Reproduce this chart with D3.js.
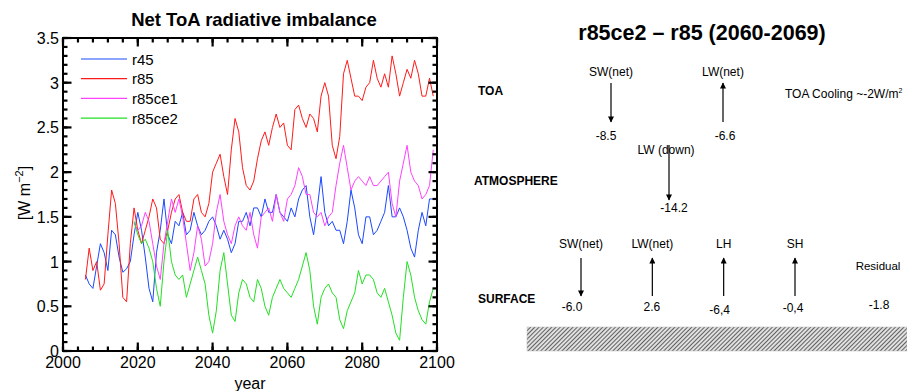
<!DOCTYPE html>
<html>
<head>
<meta charset="utf-8">
<script src="https://cdn.jsdelivr.net/npm/d3@7"></script>
<style>
  body { margin: 0; background: #fff; }
  svg { display: block; font-family: "Liberation Sans", Arial, Helvetica, sans-serif; }
</style>
</head>
<body>
<svg id="chart" width="907" height="391"></svg>
<script>
// ---- left panel data: one value per year ----
const r45Start = 2006;
const r45 = [0.85, 0.75, 0.7, 0.95, 1.2, 1.1, 0.9, 1.35, 1.3, 1.05,
  0.88, 0.92, 1.0, 1.3, 1.55, 1.35, 1.05, 0.7, 0.55, 1.1,
  1.35, 1.7, 1.3, 1.2, 1.45, 1.4, 1.55, 1.3, 1.35, 1.55,
  1.4, 1.3, 1.35, 1.45, 1.5, 1.4, 1.25, 1.35, 1.25, 1.1,
  1.2, 1.45, 1.45, 1.55, 1.4, 1.6, 1.6, 1.5, 1.7, 1.55,
  1.55, 1.75, 1.55, 1.5, 1.45, 1.6, 1.5, 1.7, 1.8, 1.85,
  1.5, 1.3, 1.6, 1.95, 1.55, 1.4, 1.45, 1.35, 1.35, 1.2,
  1.45, 1.8, 1.6, 1.3, 1.2, 1.5, 1.5, 1.3, 1.35, 1.45,
  1.55, 1.85, 1.5, 1.5, 1.6, 1.5, 1.35, 1.15, 1.05, 1.35,
  1.55, 1.4, 1.7, 1.7];

const r85Start = 2006;
const r85 = [0.8, 1.15, 0.9, 1.0, 0.68, 0.75, 1.3, 1.8, 1.65, 1.2,
  0.6, 0.55, 1.2, 1.6, 1.35, 1.2, 1.35, 1.5, 1.7, 1.6,
  1.25, 1.2, 1.35, 1.55, 1.7, 1.75, 1.55, 1.45, 1.45, 1.7,
  1.75, 1.55, 1.5, 1.65, 2.0, 2.1, 2.2, 1.95, 1.75, 2.25,
  2.6, 2.45, 2.05, 1.85, 1.8, 1.9, 2.15, 2.35, 2.45, 2.3,
  2.5, 2.65, 2.5, 2.55, 2.3, 2.25, 2.7, 2.75, 2.6, 2.5,
  2.65, 2.6, 2.45, 2.85, 3.0, 2.85, 2.3, 2.15, 2.4, 3.1,
  3.25, 3.05, 2.85, 2.85, 2.8, 2.95, 3.0, 3.25, 3.05, 2.95,
  3.1, 2.95, 3.3, 3.1, 2.85, 3.0, 3.15, 3.05, 3.25, 3.1,
  2.85, 2.85, 3.05, 2.85];

const r85ce1Start = 2019;
const r85ce1 = [1.43, 1.35, 1.4, 1.55, 1.45, 1.2, 0.95, 0.8, 1.2, 1.45,
  1.7, 1.55, 1.7, 1.5, 1.2, 0.9, 1.1, 1.4, 1.25, 0.95,
  1.0, 1.2, 1.55, 1.75, 1.45, 1.3, 1.2, 1.4, 1.5, 1.4,
  1.35, 1.55, 1.3, 1.15, 1.5, 1.55, 1.6, 1.45, 1.75, 1.55,
  1.45, 1.7, 1.75, 1.85, 2.05, 1.95, 1.75, 1.75, 1.55, 1.5,
  1.55, 1.4, 1.5, 1.55, 1.85, 2.1, 2.3, 2.05, 1.8, 1.9,
  1.95, 1.9, 1.85, 1.95, 1.85, 1.85, 1.9, 1.95, 2.0, 1.65,
  1.5, 1.9, 2.1, 2.3, 2.0, 1.9, 1.85, 1.7, 1.75, 1.85,
  2.25];

const r85ce2Start = 2019;
const r85ce2 = [1.45, 1.3, 1.2, 1.25, 1.15, 1.0, 0.7, 0.5, 1.0, 1.35,
  1.0, 0.85, 0.8, 0.85, 0.6, 0.75, 0.9, 1.05, 0.9, 0.75,
  0.4, 0.2, 0.45, 0.9, 1.1, 0.75, 0.4, 0.33, 0.65, 0.8,
  0.75, 0.6, 0.55, 0.8, 0.7, 0.5, 0.4, 0.6, 0.7, 0.8,
  0.7, 0.65, 0.6, 0.7, 0.8, 0.95, 1.1, 0.9, 0.5, 0.3,
  0.6, 0.7, 0.75, 0.65, 0.6, 0.35, 0.25, 0.45, 0.55, 0.65,
  0.9, 0.75, 0.85, 0.85, 0.8, 0.65, 0.6, 0.7, 0.55, 0.4,
  0.2, 0.12, 0.6, 1.0, 0.85, 0.6, 0.45, 0.35, 0.3, 0.55,
  0.7];

const seriesNames = ["r45", "r85", "r85ce1", "r85ce2"];
const seriesStarts = [r45Start, r85Start, r85ce1Start, r85ce2Start];
const seriesValues = [r45, r85, r85ce1, r85ce2];
const seriesColors = ["#1a48ff", "#ff1a1a", "#ff40ff", "#22e022"];

const xTicks = [2000, 2020, 2040, 2060, 2080, 2100];
const yTicks = [0, 0.5, 1, 1.5, 2, 2.5, 3, 3.5];

// ---- right panel data ----
const toaLabels = ["SW(net)", "LW(net)"];
const toaValues = ["-8.5", "-6.6"];
const toaDirs = ["down", "up"];
const atmLabels = ["LW (down)"];
const atmValues = ["-14.2"];
const sfcLabels = ["SW(net)", "LW(net)", "LH", "SH"];
const sfcValues = ["-6.0", "2.6", "-6,4", "-0,4"];
const sfcDirs = ["down", "up", "up", "up"];
const residualValue = "-1.8";

// small nudges of the value texts relative to their arrows
const toaValueShift = [-5, 2];
const sfcValueShift = [-9, -0.5, -4, -2];
const sfcValueDrop = [0, 0, 3, 1];

const svg = d3.select("#chart");
svg.append("rect").attr("width", 907).attr("height", 391).attr("fill", "#fff");

// ================= left: time series =================
const m = { left: 63, right: 437, top: 38, bottom: 351 };
const x = d3.scaleLinear().domain([2000, 2100]).range([m.left, m.right]);
const y = d3.scaleLinear().domain([0, 3.5]).range([m.bottom, m.top]);

const seriesLine = d3.line().x(d => x(d[0])).y(d => y(d[1]));

seriesValues.forEach((vals, i) => {
  const pts = vals.map((v, k) => [seriesStarts[i] + k, v]);
  svg.append("path")
    .attr("d", seriesLine(pts))
    .attr("fill", "none")
    .attr("stroke", seriesColors[i])
    .attr("stroke-width", 1)
    .attr("stroke-linejoin", "round");
});

// frame
svg.append("rect")
  .attr("x", m.left).attr("y", m.top)
  .attr("width", m.right - m.left).attr("height", m.bottom - m.top)
  .attr("fill", "none").attr("stroke", "#000").attr("stroke-width", 2);

// tick marks pointing inward on all four sides
const minorX = d3.range(2000, 2101, 4);
const minorY = d3.range(0, 3.51, 0.1);
const tickG = svg.append("g");

function xMarks(vals, len) {
  [[m.bottom, -1], [m.top, 1]].forEach(([base, dir]) => {
    tickG.selectAll(null).data(vals).join("line")
      .attr("x1", d => x(d)).attr("x2", d => x(d))
      .attr("y1", base).attr("y2", base + dir * len)
      .attr("stroke", "#000").attr("stroke-width", 2.2);
  });
}
function yMarks(vals, len) {
  [[m.left, 1], [m.right, -1]].forEach(([base, dir]) => {
    tickG.selectAll(null).data(vals).join("line")
      .attr("y1", d => y(d)).attr("y2", d => y(d))
      .attr("x1", base).attr("x2", base + dir * len)
      .attr("stroke", "#000").attr("stroke-width", 2.2);
  });
}
xMarks(minorX, 4.5);
xMarks(xTicks, 8.5);
yMarks(minorY, 4.5);
yMarks(yTicks, 8.5);

// tick labels
svg.append("g").selectAll("text").data(xTicks).join("text")
  .attr("x", d => x(d)).attr("y", 368)
  .attr("text-anchor", "middle").attr("font-size", 16)
  .text(d3.format("d"));
svg.append("g").selectAll("text").data(yTicks).join("text")
  .attr("x", 59).attr("y", d => y(d) + 6)
  .attr("text-anchor", "end").attr("font-size", 16)
  .text(d => d3.format("")(d));

// titles
svg.append("text").attr("x", 254).attr("y", 26).attr("text-anchor", "middle")
  .attr("font-size", 18.5).attr("font-weight", "bold").text("Net ToA radiative imbalance");

svg.append("text").attr("x", 250).attr("y", 389).attr("text-anchor", "middle")
  .attr("font-size", 16).text("year");

const yl = svg.append("text")
  .attr("transform", "translate(30,193) rotate(-90)")
  .attr("text-anchor", "middle").attr("font-size", 16);
yl.append("tspan").text("[W m");
yl.append("tspan").attr("dy", -7).attr("font-size", 11).text("\u22122");
yl.append("tspan").attr("dy", 7).text("]");

// legend
const leg = svg.append("g");
seriesNames.forEach((name, i) => {
  const ly = 59 + i * 19.7;
  leg.append("line").attr("x1", 81).attr("x2", 127).attr("y1", ly).attr("y2", ly)
    .attr("stroke", seriesColors[i]).attr("stroke-width", 1.2);
  leg.append("text").attr("x", 132).attr("y", ly + 5.5).attr("font-size", 15).text(name);
});

// ================= right: budget diagram =================
svg.append("text").attr("x", 702).attr("y", 40).attr("text-anchor", "middle")
  .attr("font-size", 21.5).attr("font-weight", "bold").text("r85ce2 \u2013 r85 (2060-2069)");

const defs = svg.append("defs");
defs.append("marker").attr("id", "head")
  .attr("viewBox", "0 0 10 10").attr("refX", 9).attr("refY", 5)
  .attr("markerUnits", "userSpaceOnUse")
  .attr("markerWidth", 8).attr("markerHeight", 6).attr("orient", "auto")
  .append("path").attr("d", "M0,0 L10,5 L0,10 Z").attr("fill", "#000");

const hatch = defs.append("pattern").attr("id", "hatch")
  .attr("patternUnits", "userSpaceOnUse").attr("width", 3).attr("height", 3)
  .attr("patternTransform", "rotate(-45)");
hatch.append("rect").attr("width", 3).attr("height", 3).attr("fill", "#e0e0e0");
hatch.append("line").attr("x1", 0).attr("x2", 3).attr("y1", 0.5).attr("y2", 0.5)
  .attr("stroke", "#606060").attr("stroke-width", 1);

function arrow(cx, yTop, yBot, dir) {
  svg.append("line").attr("x1", cx).attr("x2", cx)
    .attr("y1", dir === "down" ? yTop : yBot)
    .attr("y2", dir === "down" ? yBot : yTop)
    .attr("stroke", "#000").attr("stroke-width", 1.2)
    .attr("marker-end", "url(#head)");
}

function label(tx, ty, t, opts = {}) {
  return svg.append("text").attr("x", tx).attr("y", ty)
    .attr("text-anchor", opts.anchor || "middle")
    .attr("font-size", opts.size || 12)
    .attr("font-weight", opts.bold ? "bold" : "normal")
    .text(t);
}

// row headers
label(478, 95, "TOA", { anchor: "start", bold: true });
label(474, 185, "ATMOSPHERE", { anchor: "start", bold: true });
label(478, 303, "SURFACE", { anchor: "start", bold: true });

// TOA
const toaX = d3.scalePoint().domain(toaLabels).range([611, 723]);
toaLabels.forEach((t, i) => {
  label(toaX(t), 76, t);
  arrow(toaX(t), 83, 122, toaDirs[i]);
  label(toaX(t) + toaValueShift[i], 140, toaValues[i]);
});
const cool = label(785, 98, "TOA Cooling ~-2W/m", { anchor: "start", size: 12 });
cool.append("tspan").attr("dy", -5).attr("font-size", 7).text("2");

// atmosphere
label(666, 154, atmLabels[0]);
arrow(669, 145, 200, "down");
label(674, 212, atmValues[0]);

// surface
const sfcX = d3.scalePoint().domain(sfcLabels).range([581, 795]);
sfcLabels.forEach((t, i) => {
  label(sfcX(t), 248, t);
  arrow(sfcX(t), 258, 296, sfcDirs[i]);
  label(sfcX(t) + sfcValueShift[i], 311 + sfcValueDrop[i], sfcValues[i]);
});
label(878, 270, "Residual", { size: 11.5 });
label(879, 309, residualValue);

// ground
svg.append("rect").attr("x", 527).attr("y", 327).attr("width", 380).attr("height", 24)
  .attr("fill", "url(#hatch)").attr("stroke", "#bbb").attr("stroke-width", 0.5);
</script>
</body>
</html>
